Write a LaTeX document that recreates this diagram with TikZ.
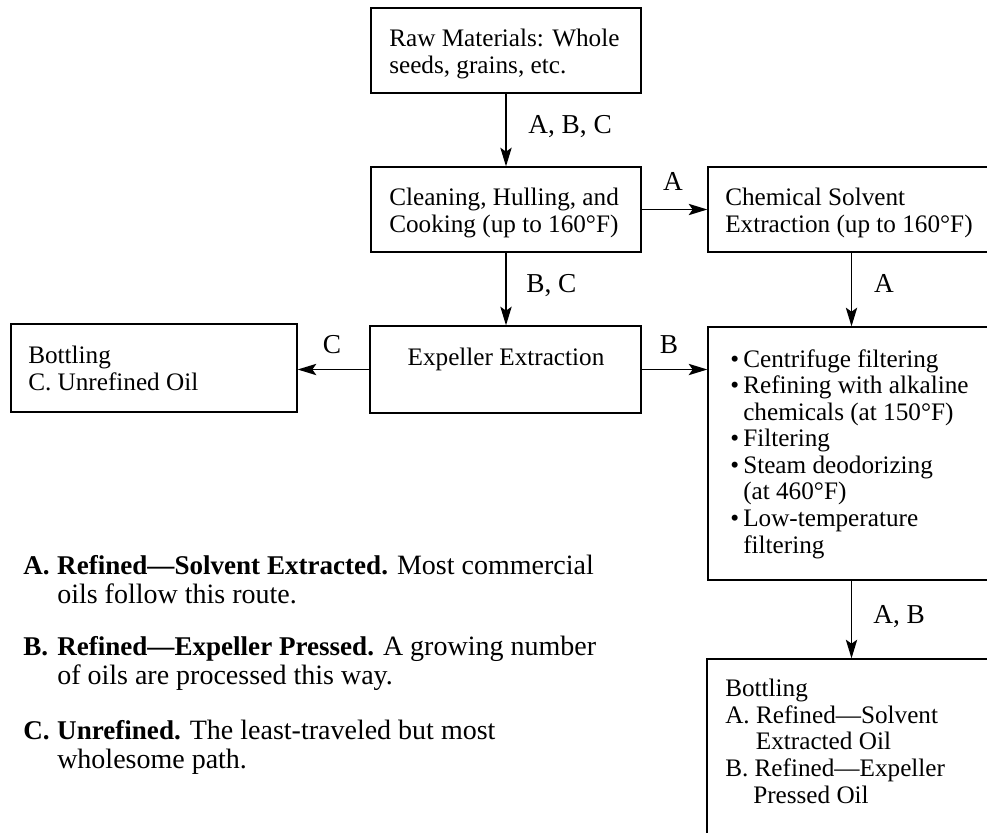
\documentclass[tikz,border=0pt]{standalone}
\usepackage{fontspec}
\setmainfont{Liberation Serif}
\usetikzlibrary{arrows.meta,fit}
\newcommand{\myb}{\makebox[9.75pt][l]{•}}
\newcommand{\myi}{\hspace*{9.75pt}}
\newcommand{\legrm}{\fontsize{21}{21.75}\selectfont}
\begin{document}
\begin{tikzpicture}[x=0.75pt,y=-0.75pt,
  box/.style={draw,line width=1pt,inner sep=0pt,rectangle},
  txt/.style={inner sep=0pt,anchor=base west,align=left,font=\fontsize{18.9}{19.9}\selectfont},
  lbl/.style={inner sep=0pt,anchor=base west,font=\fontsize{20.5}{21}\selectfont},
  leg/.style={inner sep=0pt,anchor=base west,align=left,font=\fontsize{20.3}{21.75}\selectfont},
  arr/.style={line width=1pt,-{Stealth[length=14pt,width=8.5pt,inset=3pt]}}]
\useasboundingbox (0,0) rectangle (987,832);
\clip (0,0) rectangle (987,832);
% boxes
\node[box,fit={(371,8)(641,93)}] (raw) {};
\node[box,fit={(371,167)(641,252)}] (clean) {};
\node[box,fit={(708,167)(995,252)}] (chem) {};
\node[box,fit={(370,326)(641,413)}] (exp) {};
\node[box,fit={(11,324)(297,412)}] (botc) {};
\node[box,fit={(708,327)(995,580)}] (ref) {};
\node[box,fit={(707,659)(995,845)}] (bot) {};
% box texts (anchor = baseline of last line)
\node[txt] (rawt) at (389,73) {Raw Materials: Whole\\seeds, grains, etc.};
\node[txt] (cleant) at (389,232) {Cleaning, Hulling, and\\Cooking (up to 160°F)};
\node[txt] (chemt) at (725,232) {Chemical Solvent\\Extraction (up to 160°F)};
\node[txt,anchor=base] (expt) at (506,365) {Expeller Extraction};
\node[txt] (botct) at (28,390) {Bottling\\C. Unrefined Oil};
\node[txt] (reft) at (730,553) {\myb Centrifuge filtering\\\myb Refining with alkaline\\\myi chemicals (at 150°F)\\\myb Filtering\\\myb Steam deodorizing\\\myi (at 460°F)\\\myb Low-temperature\\\myi filtering};
\node[txt] (bott) at (725,803) {Bottling\\A. Refined—Solvent\\\hspace*{23pt}Extracted Oil\\B. Refined—Expeller\\\hspace*{21pt}Pressed Oil};
% connector labels
\node[lbl] (l1) at (528,133) {A, B, C};
\node[lbl,anchor=base] (l2) at (673,190) {A};
\node[lbl] (l3) at (526,292) {B, C};
\node[lbl,anchor=base] (l4) at (884,292) {A};
\node[lbl,anchor=base] (l5) at (669,353) {B};
\node[lbl,anchor=base] (l6) at (332,353) {C};
\node[lbl] (l7) at (873,623) {A, B};
% connectors
\draw[arr] (raw) -- (clean);
\draw[arr] (clean) -- (chem);
\draw[arr] (clean.south) -- (clean.south |- exp.north);
\draw[arr] (chem.south) -- (chem.south |- ref.north);
\draw[arr] (exp.east) -- (exp.east -| ref.west);
\draw[arr] (exp.west) -- (exp.west -| botc.east);
\draw[arr] (ref.south) -- (ref.south |- bot.north);
% legend
\node[leg] (lega) at (23,603) {\makebox[25.5pt][l]{\textbf{A.}}\textbf{Refined—Solvent Extracted.} {\legrm Most commercial}\\\hspace*{25.5pt}{\legrm oils follow this route.}};
\node[leg] (legb) at (23,684) {\makebox[25.5pt][l]{\textbf{B.}}\textbf{Refined—Expeller Pressed.} {\legrm A growing number}\\\hspace*{25.5pt}{\legrm of oils are processed this way.}};
\node[leg] (legc) at (23,768) {\makebox[25.5pt][l]{\textbf{C.}}\textbf{Unrefined.} {\legrm The least-traveled but most}\\\hspace*{25.5pt}{\legrm wholesome path.}};
\end{tikzpicture}
\end{document}
